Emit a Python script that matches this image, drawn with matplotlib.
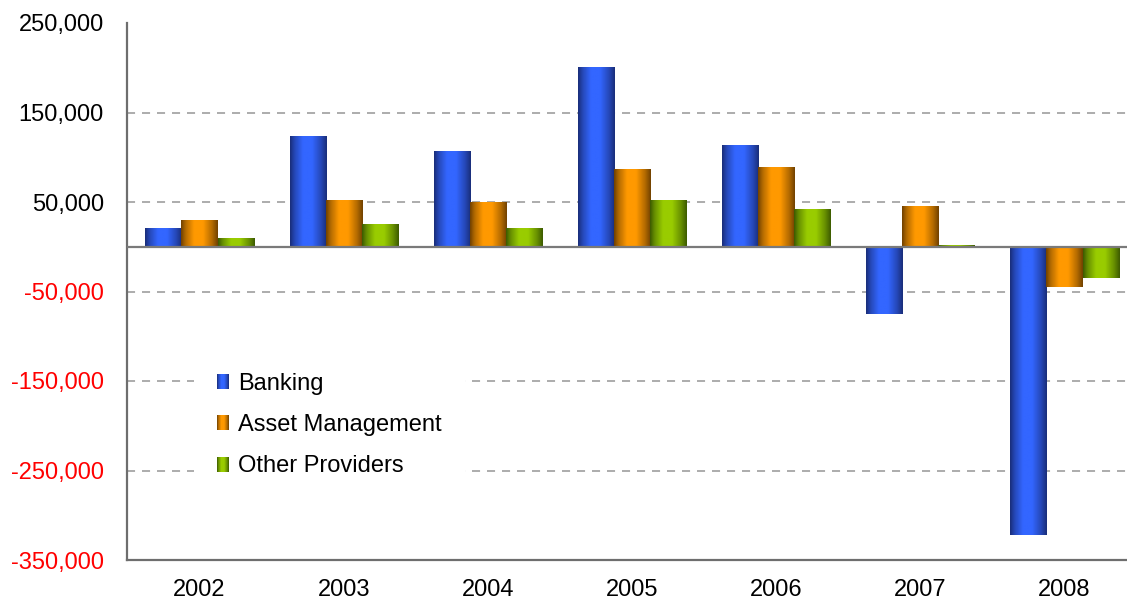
import numpy as np
import matplotlib
matplotlib.use("Agg")
import matplotlib.pyplot as plt
from matplotlib.legend_handler import HandlerBase
from matplotlib.image import BboxImage
from matplotlib.transforms import Bbox, TransformedBbox
from matplotlib.ticker import FuncFormatter

years = ["2002", "2003", "2004", "2005", "2006", "2007", "2008"]
series_names = ["Banking", "Asset Management", "Other Providers"]
banking = [21000, 123500, 107000, 200500, 113000, -75000, -322000]
asset_mgmt = [30000, 52000, 50000, 87000, 89000, 45000, -45000]
other_providers = [10000, 25000, 21000, 52000, 42000, 1500, -35000]
y_ticks = [-350000, -250000, -150000, -50000, 50000, 150000, 250000]

plt.rcParams['font.family'] = ['Liberation Sans', 'DejaVu Sans']
plt.rcParams['lines.scale_dashes'] = False

# (edge colour, centre colour) for the cylinder-like shading
palettes = [
    ((0.10, 0.18, 0.48), (0.20, 0.40, 1.00)),
    ((0.45, 0.26, 0.00), (1.00, 0.60, 0.00)),
    ((0.24, 0.36, 0.00), (0.60, 0.80, 0.00)),
]


def gradient(edge, centre, n=64):
    t = np.linspace(0, 1, n)
    w = np.interp(t, [0.0, 0.12, 0.35, 0.6, 0.85, 1.0], [0.0, 0.45, 1.0, 1.0, 0.45, 0.0])
    e = np.array(edge)
    c = np.array(centre)
    img = e[None, :] + (c - e)[None, :] * w[:, None]
    return img[None, :, :]


fig = plt.figure(figsize=(11.27, 6.03), dpi=100)
ax = fig.add_axes([127.4 / 1127, 43 / 603, (1136.6 - 127.4) / 1127, 537 / 603])

x = np.arange(len(years))
width = 0.25
all_series = [banking, asset_mgmt, other_providers]
containers = []
for i, (vals, name) in enumerate(zip(all_series, series_names)):
    cont = ax.bar(x + (i - 1) * width, vals, width, color=palettes[i][1], label=name,
                  zorder=2, linewidth=0)
    containers.append(cont)
    img = gradient(*palettes[i])
    for p in cont.patches:
        x0, y0 = p.get_x(), p.get_y()
        w, h = p.get_width(), p.get_height()
        ax.imshow(img, extent=[x0, x0 + w, min(y0, y0 + h), max(y0, y0 + h)],
                  aspect='auto', interpolation='bilinear', zorder=3)

ax.set_xlim(-0.5, len(years) - 0.5)
ax.set_ylim(-350000, 250000)

# grid lines
for yv in y_ticks:
    if yv in (-350000, 250000):
        continue
    ax.axhline(yv, color='#a6a6a6', lw=1.3, dashes=(5.8, 5.0), zorder=1)
ax.axhline(0, color='#7a7a7a', lw=1.6, zorder=4)

ax.set_yticks(y_ticks)
ax.yaxis.set_major_formatter(FuncFormatter(lambda v, p: f"{int(v):,}"))
ax.set_xticks(x)
ax.set_xticklabels(years)
ax.tick_params(axis='y', length=0, pad=17, labelsize=17)
ax.tick_params(axis='x', length=0, pad=14, labelsize=17)
for lbl, v in zip(ax.get_yticklabels(), y_ticks):
    lbl.set_color('red' if v < 0 else 'black')

for s in ['top', 'right']:
    ax.spines[s].set_visible(False)
for s in ['left', 'bottom']:
    ax.spines[s].set_color('#6e6e6e')
    ax.spines[s].set_linewidth(1.6)


class GradientHandler(HandlerBase):
    def __init__(self, img):
        super().__init__()
        self.img = img

    def create_artists(self, legend, orig_handle, xdescent, ydescent, width, height, fontsize, trans):
        bb = Bbox.from_bounds(-xdescent, -ydescent, width, height)
        tbb = TransformedBbox(bb, trans)
        im = BboxImage(tbb, interpolation='bilinear')
        im.set_data(self.img)
        return [im]


handles = [c for c in containers]
handler_map = {c: GradientHandler(gradient(*palettes[i])) for i, c in enumerate(containers)}
leg = ax.legend(handles, series_names, handler_map=handler_map,
                loc='center left', bbox_to_anchor=(182 / 1127, (603 - 425) / 603),
                bbox_transform=fig.transFigure, fontsize=17,
                handlelength=0.5, handleheight=0.6, handletextpad=0.38,
                labelspacing=0.82, borderpad=1.0, frameon=True, framealpha=1,
                fancybox=False)
leg.get_frame().set_edgecolor('none')
leg.get_frame().set_facecolor('white')
leg.set_zorder(5)

fig.savefig('out.png', dpi=100)
